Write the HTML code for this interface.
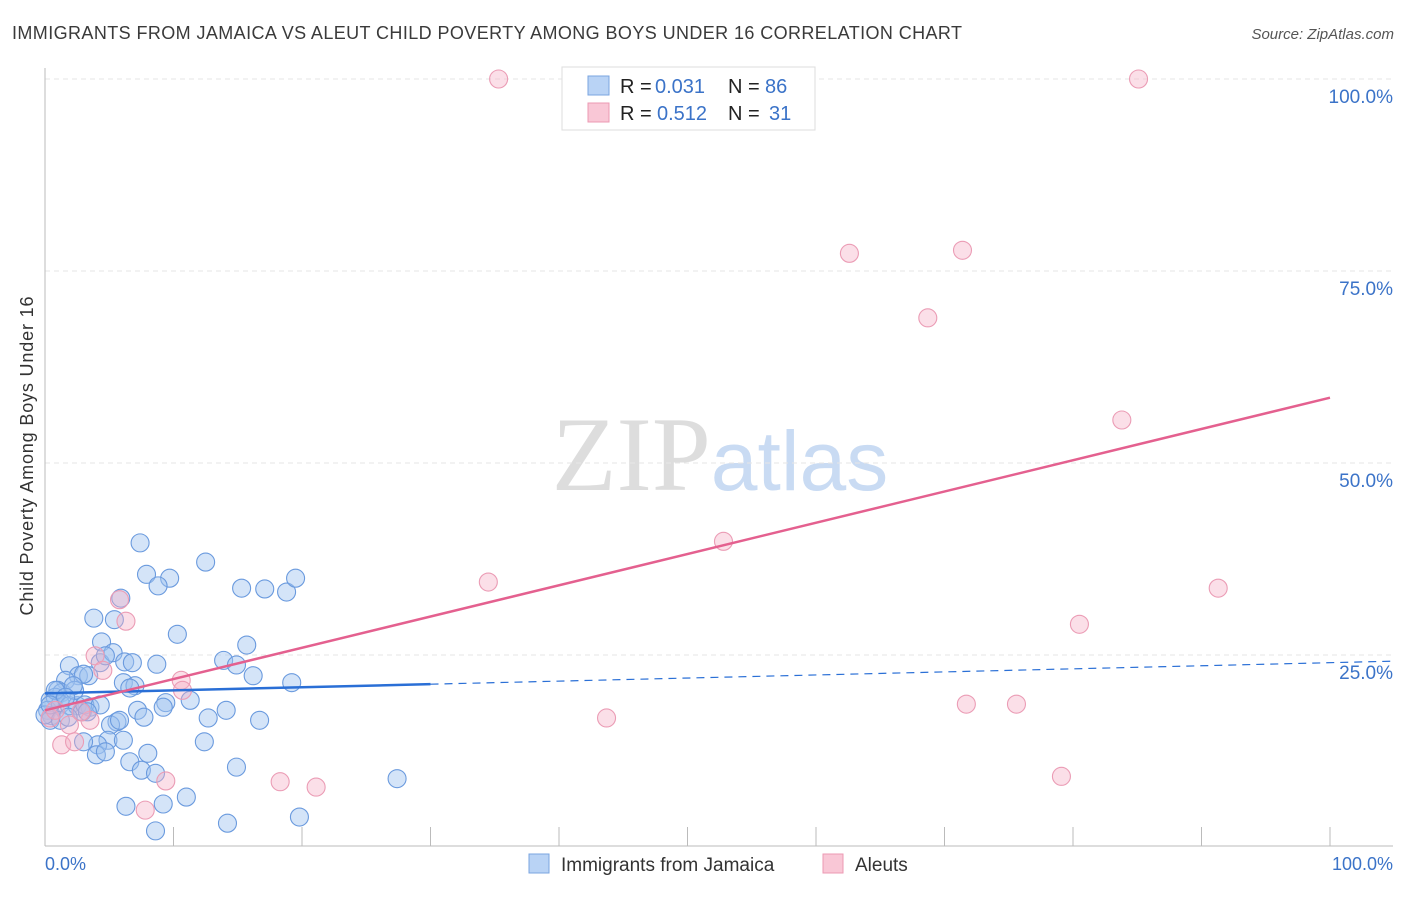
<!DOCTYPE html>
<html><head><meta charset="utf-8"><style>
body{margin:0;background:#fff;font-family:"Liberation Sans",sans-serif}
</style></head><body>
<svg id="chart" width="1406" height="892" xmlns="http://www.w3.org/2000/svg" font-family="Liberation Sans, sans-serif">
<text x="12" y="39" font-size="18" fill="#3a3a3a" textLength="950" lengthAdjust="spacing">IMMIGRANTS FROM JAMAICA VS ALEUT CHILD POVERTY AMONG BOYS UNDER 16 CORRELATION CHART</text>
<text x="1394" y="39" font-size="15" fill="#555" text-anchor="end" font-style="italic">Source: ZipAtlas.com</text>
<text x="720" y="490" font-size="106" text-anchor="middle" fill="#ddd" font-family="Liberation Serif, serif">ZIP<tspan fill="#c9dbf3" font-family="Liberation Sans, sans-serif" font-size="84">atlas</tspan></text>
<text transform="translate(33,456) rotate(-90)" font-size="18" fill="#333" text-anchor="middle" textLength="319" lengthAdjust="spacing">Child Poverty Among Boys Under 16</text>
<g id="grid"></g><g id="axes"></g><g id="pts"></g><g id="lines"></g>
<g>
<rect x="562" y="67" width="253" height="63" fill="#fff" stroke="#ddd"/>
<rect x="588" y="76" width="21" height="19" fill="#b9d3f5" stroke="#7aa5e0"/>
<rect x="588" y="103" width="21" height="19" fill="#f9c7d6" stroke="#ec9ab3"/>
<text x="620" y="93" font-size="20" fill="#222">R =</text>
<text x="655" y="93" font-size="20" fill="#3b73c8">0.031</text>
<text x="728" y="93" font-size="20" fill="#222">N =</text>
<text x="765" y="93" font-size="20" fill="#3b73c8">86</text>
<text x="620" y="120" font-size="20" fill="#222">R =</text>
<text x="657" y="120" font-size="20" fill="#3b73c8">0.512</text>
<text x="728" y="120" font-size="20" fill="#222">N =</text>
<text x="769" y="120" font-size="20" fill="#3b73c8">31</text>
</g>
<g>
<rect x="529" y="854" width="20" height="19" fill="#b9d3f5" stroke="#7aa5e0"/>
<text x="561" y="871" font-size="19" fill="#333">Immigrants from Jamaica</text>
<rect x="823" y="854" width="20" height="19" fill="#f9c7d6" stroke="#ec9ab3"/>
<text x="855" y="871" font-size="19" fill="#333">Aleuts</text>
</g>
</svg>
<script>
const blueX=[7.4,7.9,9.7,8.8,12.5,15.3,17.1,18.8,19.5,3.8,5.4,5.9,10.3,4.4,15.7,1.9,4.3,5.3,4.7,6.2,6.8,8.7,13.9,14.9,2.6,3.4,3.0,1.6,1.0,1.3,0.4,0.8,0.2,0.5,1.2,1.9,2.5,3.5,2.9,6.1,7.0,6.6,11.3,16.2,19.2,9.4,9.2,7.2,7.7,5.6,5.1,12.7,14.1,16.7,4.9,4.1,6.1,4.0,3.0,4.7,8.0,6.6,7.5,8.6,12.4,14.9,6.3,9.2,11.0,14.2,8.6,19.8,27.4,0.4,0.8,2.3,0.0,0.4,3.1,4.3,1.2,3.3,5.8,1.8,2.2,1.6];
const blueY=[39.6,35.5,35.0,34.0,37.1,33.7,33.6,33.2,35.0,29.8,29.6,32.4,27.7,26.7,26.3,23.6,24.0,25.3,24.9,24.1,24.0,23.8,24.3,23.7,22.3,22.3,22.5,21.7,20.4,20.1,19.1,19.5,17.8,17.1,18.6,18.4,18.4,18.2,17.6,21.4,21.0,20.7,19.1,22.3,21.4,18.8,18.2,17.8,16.9,16.3,15.9,16.8,17.8,16.5,13.9,13.3,13.9,12.0,13.7,12.4,12.2,11.1,10.0,9.6,13.7,10.4,5.3,5.6,6.5,3.1,2.1,3.9,8.9,16.5,20.4,20.4,17.2,18.5,18.5,18.5,16.5,17.6,16.5,16.9,21.0,19.5];
const pinkX=[35.3,85.1,62.6,71.4,68.7,83.8,52.8,34.5,91.3,80.5,43.7,71.7,75.6,79.1,18.3,21.1,9.4,7.8,5.8,6.3,3.9,4.5,10.6,10.7,3.5,1.9,1.3,2.3,0.4,0.8,2.8];
const pinkY=[100,100,77.3,77.7,68.9,55.6,39.8,34.5,33.7,29.0,16.8,18.6,18.6,9.2,8.5,7.8,8.6,4.8,32.2,29.4,24.9,23.0,21.7,20.4,16.5,15.9,13.3,13.7,16.8,17.8,17.6];
const yTicks=[25,50,75,100];
const yTickLabels=["25.0%","50.0%","75.0%","100.0%"];
const xTicks=[0,10,20,30,40,50,60,70,80,90,100];
const blueTrend=[20.0,0.04];
const pinkTrend=[17.8,0.407];
const NS="http://www.w3.org/2000/svg";
const sx=v=>45+v*12.85, sy=v=>847-v*7.68;
function mk(t,a,p){const e=document.createElementNS(NS,t);for(const k in a)e.setAttribute(k,a[k]);document.getElementById(p).appendChild(e);return e;}
yTicks.forEach((t,i)=>{
 const g=mk('line',{x1:45,x2:1393,y1:sy(t),y2:sy(t),stroke:'#e6e6e6','stroke-dasharray':'5,4'},'grid');
 
 
 const l=mk('text',{x:1393,y:sy(t)+24,'font-size':19,fill:'#3b73c8','text-anchor':'end'},'grid');
 
 
 l.textContent=yTickLabels[i];
});
const ya=mk('line',{x1:45,x2:45,y1:68,y2:846,stroke:'#bbb'},'axes');


const xa=mk('line',{x1:45,x2:1393,y1:846,y2:846,stroke:'#bbb'},'axes');


xTicks.forEach(t=>{const k=mk('line',{x1:sx(t),x2:sx(t),y1:827,y2:846,stroke:'#bbb'},'axes');
 
 });
const x0=mk('text',{x:45,y:870,'font-size':18,fill:'#3b73c8'},'axes');


x0.textContent='0.0%';
const x1=mk('text',{x:1393,y:870,'font-size':18,fill:'#3b73c8','text-anchor':'end'},'axes');


x1.textContent='100.0%';
blueX.forEach((v,i)=>{const c=mk('circle',{cx:sx(v),cy:sy(blueY[i]),r:9,fill:'rgba(160,195,240,0.45)',stroke:'#6a9ade','stroke-width':1.1},'pts');
 
 });
pinkX.forEach((v,i)=>{const c=mk('circle',{cx:sx(v),cy:sy(pinkY[i]),r:9,fill:'rgba(245,175,198,0.4)',stroke:'#eb9cb5','stroke-width':1.1},'pts');
 
 });
const bt=x=>blueTrend[0]+blueTrend[1]*x, pt=x=>pinkTrend[0]+pinkTrend[1]*x;
const b1=mk('line',{x1:sx(0),y1:sy(bt(0)),x2:sx(30),y2:sy(bt(30)),stroke:'#2a6fd6','stroke-width':2.5},'lines');


const b2=mk('line',{x1:sx(30),y1:sy(bt(30)),x2:sx(105),y2:sy(bt(105)),stroke:'#2a6fd6','stroke-width':1.2,'stroke-dasharray':'8,6'},'lines');


const p1=mk('line',{x1:sx(0),y1:sy(pt(0)),x2:sx(100),y2:sy(pt(100)),stroke:'#e4608f','stroke-width':2.5},'lines');


</script>
</body></html>
